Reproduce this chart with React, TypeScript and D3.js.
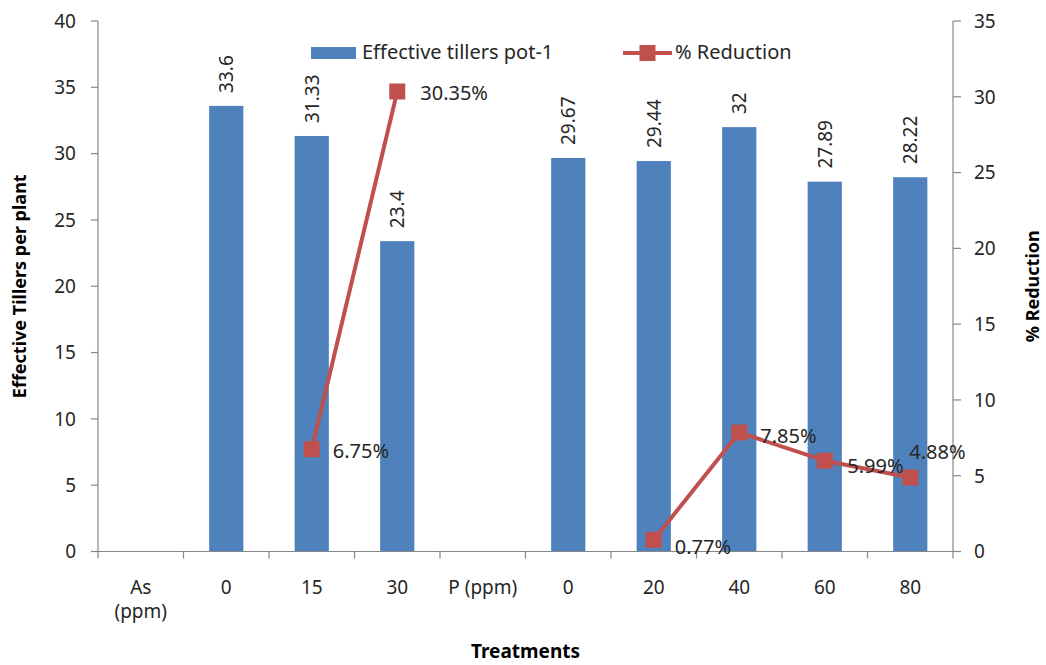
import React from "react";
import * as d3 from "d3";

// Treatment groups along the x axis ("\n" marks a line break in the label)
const categories: string[] = ["As\n(ppm)", "0", "15", "30", "P (ppm)", "0", "20", "40", "60", "80"];
// Effective tillers per pot (left axis)
const tillers: (number | null)[] = [null, 33.6, 31.33, 23.4, null, 29.67, 29.44, 32, 27.89, 28.22];
// Percent reduction (right axis)
const reduction: (number | null)[] = [null, null, 6.75, 30.35, null, null, 0.77, 7.85, 5.99, 4.88];
const leftTicks: number[] = [0, 5, 10, 15, 20, 25, 30, 35, 40];
const rightTicks: number[] = [0, 5, 10, 15, 20, 25, 30, 35];

const seriesNames = { bars: "Effective tillers pot-1", line: "% Reduction" };

// Placement tweaks for the percentage labels (dx, dy from the marker)
const pctLabelOffset: [number, number][] = [
  [0, 0], [0, 0], [21, 2], [23, 1.5], [0, 0], [0, 0], [21, 7], [21, 3.5], [22.5, 5], [-1, -26],
];

const W = 1046;
const H = 665;
const plot = { left: 98, right: 953, top: 21, bottom: 551.5 };

const BAR = "#4F81BD";
const RED = "#C0504D";
const AXIS = "#868686";
const FONT = "'Noto Sans', 'Open Sans', sans-serif";

export default function App() {
  const idx = categories.map((_, i) => String(i));
  const x = d3.scaleBand<string>().domain(idx).range([plot.left, plot.right]).paddingInner(0).paddingOuter(0);
  const bw = x.bandwidth();
  const cx = (i: number) => (x(String(i)) as number) + bw / 2;
  const yL = d3.scaleLinear().domain([0, 40]).range([plot.bottom, plot.top]);
  const yR = d3.scaleLinear().domain([0, 35]).range([plot.bottom, plot.top]);
  const barW = bw * 0.4;

  const line = d3
    .line<number | null>()
    .defined((d) => d != null)
    .x((_, i) => cx(i))
    .y((d) => yR(d as number));

  const boundaries = idx.map((k) => x(k) as number).concat([plot.right]);

  return (
    <svg
      width={W}
      height={H}
      style={{ position: "absolute", left: 0, top: 0, background: "#fff" }}
      fontFamily={FONT}
    >
      {/* bars */}
      {tillers.map((v, i) =>
        v == null ? null : (
          <rect key={"b" + i} x={cx(i) - barW / 2} y={yL(v)} width={barW} height={yL(0) - yL(v)} fill={BAR} />
        )
      )}
      {/* bar value labels, rotated */}
      {tillers.map((v, i) =>
        v == null ? null : (
          <text
            key={"bl" + i}
            transform={`translate(${cx(i) + 7},${yL(v) - 13}) rotate(-90)`}
            fontSize={19}
            fill="#262626"
            textAnchor="start"
          >
            {String(v)}
          </text>
        )
      )}

      {/* left axis */}
      <line x1={plot.left} x2={plot.left} y1={plot.top} y2={plot.bottom} stroke={AXIS} strokeWidth={1.2} />
      {leftTicks.map((t) => (
        <g key={"lt" + t}>
          <line x1={plot.left - 7} x2={plot.left} y1={yL(t)} y2={yL(t)} stroke={AXIS} strokeWidth={1.2} />
          <text x={76} y={yL(t)} dy="0.36em" textAnchor="end" fontSize={19} fill="#262626">
            {t}
          </text>
        </g>
      ))}
      {/* right axis */}
      <line x1={plot.right} x2={plot.right} y1={plot.top} y2={plot.bottom} stroke={AXIS} strokeWidth={1.2} />
      {rightTicks.map((t) => (
        <g key={"rt" + t}>
          <line x1={plot.right} x2={plot.right + 8} y1={yR(t)} y2={yR(t)} stroke={AXIS} strokeWidth={1.2} />
          <text x={974} y={yR(t)} dy="0.36em" textAnchor="start" fontSize={19} fill="#262626">
            {t}
          </text>
        </g>
      ))}
      {/* category axis */}
      <line x1={plot.left} x2={plot.right} y1={plot.bottom} y2={plot.bottom} stroke={AXIS} strokeWidth={1.2} />
      {boundaries.map((b, i) => (
        <line key={"xt" + i} x1={b} x2={b} y1={plot.bottom} y2={plot.bottom + 7} stroke={AXIS} strokeWidth={1.2} />
      ))}
      {categories.map((c, i) => (
        <text key={"xl" + i} x={cx(i)} y={594} textAnchor="middle" fontSize={19} fill="#262626">
          {c.split("\n").map((part, j) => (
            <tspan key={j} x={cx(i)} dy={j === 0 ? 0 : 24}>
              {part}
            </tspan>
          ))}
        </text>
      ))}

      {/* reduction line and markers */}
      <path d={line(reduction) || ""} fill="none" stroke={RED} strokeWidth={4} strokeLinejoin="round" />
      {reduction.map((v, i) =>
        v == null ? null : (
          <rect key={"m" + i} x={cx(i) - 8} y={yR(v) - 8} width={16} height={16} fill={RED} />
        )
      )}
      {reduction.map((v, i) =>
        v == null ? null : (
          <text
            key={"ml" + i}
            x={cx(i) + pctLabelOffset[i][0]}
            y={yR(v) + pctLabelOffset[i][1]}
            dy="0.36em"
            fontSize={20}
            fill="#262626"
          >
            {v.toFixed(2) + "%"}
          </text>
        )
      )}

      {/* axis titles */}
      <text
        transform={`translate(26,${(plot.top + plot.bottom) / 2}) rotate(-90)`}
        textAnchor="middle"
        fontSize={18}
        fontWeight="bold"
        fill="#000"
      >
        Effective Tillers per plant
      </text>
      <text
        transform={`translate(1039,${(plot.top + plot.bottom) / 2}) rotate(-90)`}
        textAnchor="middle"
        fontSize={18}
        fontWeight="bold"
        fill="#000"
      >
        % Reduction
      </text>
      <text x={(plot.left + plot.right) / 2} y={658} textAnchor="middle" fontSize={19} fontWeight="bold" fill="#000">
        Treatments
      </text>

      {/* legend */}
      <rect x={311} y={47} width={45} height={12} fill={BAR} />
      <text x={362} y={59} fontSize={20} fill="#262626">
        {seriesNames.bars}
      </text>
      <line x1={623} x2={672} y1={53} y2={53} stroke={RED} strokeWidth={4} />
      <rect x={639.5} y={45} width={16} height={16} fill={RED} />
      <text x={675} y={59} fontSize={20} fill="#262626">
        {seriesNames.line}
      </text>
    </svg>
  );
}
